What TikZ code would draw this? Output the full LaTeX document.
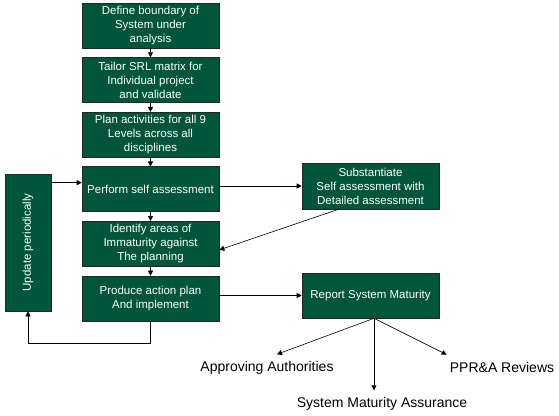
\documentclass[tikz,border=0pt]{standalone}
\usepackage{fontspec}
\setmainfont{Liberation Sans}
\usetikzlibrary{arrows.meta, positioning, calc}
\definecolor{srlgreen}{HTML}{00553A}
\tikzstyle{stage} = [rectangle, minimum width=137pt, minimum height=45pt, align=center,
                     draw=black!85, fill=srlgreen, text=white, inner sep=1pt,
                     font=\fontsize{11.5}{14}\selectfont, line width=0.6pt]
\tikzstyle{outcome} = [inner sep=1pt, font=\fontsize{14}{16}\selectfont]
\tikzstyle{arrow} = [-{Triangle[length=5pt, width=5pt]}, line width=0.6pt]

\begin{document}
\begin{tikzpicture}[x=1pt, y=1pt, node distance=9pt]
    \useasboundingbox (0,0) rectangle (559,415);

    % Main column
    \node[stage] (boundary) at (150.5,389.5) {Define boundary of\\System under\\analysis};
    \node[stage, below=of boundary] (tailor) {Tailor SRL matrix for\\Individual project\\and validate};
    \node[stage, below=of tailor] (plan) {Plan activities for all 9\\Levels across all\\disciplines};
    \node[stage, below=of plan] (perform) {Perform self assessment};
    \node[stage, below=of perform] (identify) {Identify areas of\\Immaturity against\\The planning};
    \node[stage, below=of identify] (produce) {Produce action plan\\And implement};

    % Side boxes
    \node[stage, minimum width=46pt, minimum height=137pt] (update) at (28,172.5) {\rotatebox{90}{Update periodically}};
    \node[stage, minimum height=46pt] (substantiate) at (370.5,229) {Substantiate\\Self assessment with\\Detailed assessment};
    \node[stage] (report) at (370.5,119.5) {Report System Maturity};

    % Outcomes
    \node[outcome] (approve) at (267,47) {Approving Authorities};
    \node[outcome] (assure) at (382,11) {System Maturity Assurance};
    \node[outcome] (reviews) at (502,48) {PPR\&A Reviews};

    % Arrows main column
    \draw[arrow] (boundary) -- (tailor);
    \draw[arrow] (tailor) -- (plan);
    \draw[arrow] (plan) -- (perform);
    \draw[arrow] (perform) -- (identify);
    \draw[arrow] (identify) -- (produce);

    % Loop back
    \coordinate (feed) at ([yshift=-9pt]update.north east);
    \draw[arrow] (feed) -- (feed -| perform.west);
    \draw[arrow] (produce.south) -- ++(0,-22) -| (update.south);

    % Arrows to the right
    \draw[arrow] (perform.east |- substantiate.west) -- (substantiate.west);
    \draw[arrow] ([xshift=-32pt]substantiate.south) -- ([yshift=-6pt]identify.east);
    \draw[arrow] (produce.east |- report.west) -- (report.west);

    % Fan out
    \coordinate (fan) at ([xshift=3.5pt]report.south);
    \coordinate (assuretop) at ([yshift=6pt]assure.north);
    \draw[arrow] (fan) -- ([xshift=10pt, yshift=6pt]approve.north);
    \draw[arrow] (fan) -- (fan |- assuretop);
    \draw[arrow] (fan) -- ([xshift=-2pt, yshift=6pt]reviews.north west);
\end{tikzpicture}
\end{document}
